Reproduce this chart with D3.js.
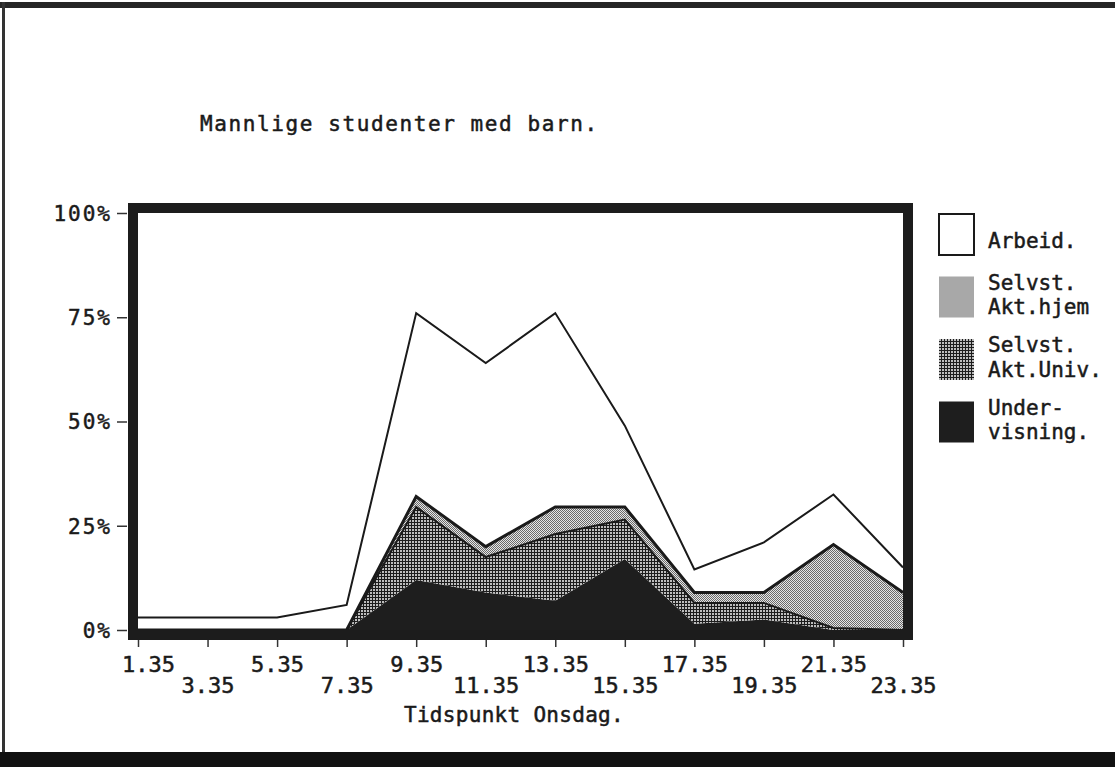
<!DOCTYPE html>
<html>
<head>
<meta charset="utf-8">
<script src="https://cdn.jsdelivr.net/npm/d3@7"></script>
<style>
  body { margin: 0; background: #fff; }
  text { font-family: "DejaVu Sans Mono", monospace; fill: #1a1a1a; stroke: #1a1a1a; stroke-width: 0.5px; }
</style>
</head>
<body>
<div id="chart"></div>
<script>
// time of day (x categories)
let hours = ["1.35", "3.35", "5.35", "7.35", "9.35", "11.35", "13.35", "15.35", "17.35", "19.35", "21.35", "23.35"];
// percent per activity, stacked bottom to top
let undervisning = [0, 0, 0, 0, 12, 9, 7, 17, 1.5, 2.5, 0, 0];
let aktUniv      = [0, 0, 0, 0, 17.5, 8.5, 16, 9.5, 5, 4, 0.5, 0];
let aktHjem      = [0, 0, 0, 0, 2.5, 2.5, 6.5, 3, 2.5, 2.5, 20, 9];
let arbeid       = [3, 3, 3, 6, 44, 44, 46.5, 19.5, 5.5, 12, 12, 6];
let yTicks = [0, 25, 50, 75, 100];
let keys = ["undervisning", "aktUniv", "aktHjem", "arbeid"];
let legendLabels = [["Arbeid."], ["Selvst.", "Akt.hjem"], ["Selvst.", "Akt.Univ."], ["Under-", "visning."]];

let width = 1115, height = 767;

let svg = d3.select("#chart")
    .append("svg")
    .attr("width", width)
    .attr("height", height);

// fill patterns (old dithered screen look)
let defs = svg.append("defs");
let pHjem = defs.append("pattern").attr("id", "pHjem")
    .attr("width", 2).attr("height", 2).attr("patternUnits", "userSpaceOnUse");
pHjem.append("rect").attr("width", 2).attr("height", 2).attr("fill", "#e6e6e6");
pHjem.append("rect").attr("x", 0).attr("y", 0).attr("width", 1).attr("height", 1).attr("fill", "#6a6a6a");
pHjem.append("rect").attr("x", 1).attr("y", 1).attr("width", 1).attr("height", 1).attr("fill", "#6a6a6a");

let pUniv = defs.append("pattern").attr("id", "pUniv")
    .attr("width", 3).attr("height", 3).attr("patternUnits", "userSpaceOnUse");
pUniv.append("rect").attr("width", 3).attr("height", 3).attr("fill", "#1c1c1c");
pUniv.append("rect").attr("x", 1).attr("y", 1).attr("width", 2).attr("height", 2).attr("fill", "#bdbdbd");

let fills = {
    undervisning: "#1e1e1e",
    aktUniv: "url(#pUniv)",
    aktHjem: "url(#pHjem)",
    arbeid: "#ffffff"
};
let strokeW = { undervisning: 0, aktUniv: 2, aktHjem: 3, arbeid: 2 };

// page border
svg.append("rect").attr("x", 0).attr("y", 2).attr("width", width).attr("height", 6).attr("fill", "#262626");
svg.append("rect").attr("x", 2).attr("y", 2).attr("width", 3).attr("height", 752).attr("fill", "#333");
svg.append("rect").attr("x", 0).attr("y", 752).attr("width", width).attr("height", 15).attr("fill", "#111");

// scales
let x = d3.scalePoint().domain(hours).range([138, 903]);
let y = d3.scaleLinear().domain([0, 100]).range([630, 213]);

// table for the stack
let table = hours.map((h, i) => ({
    hour: h,
    undervisning: undervisning[i],
    aktUniv: aktUniv[i],
    aktHjem: aktHjem[i],
    arbeid: arbeid[i]
}));
let stacked = d3.stack().keys(keys)(table);

let area = d3.area()
    .x(d => x(d.data.hour))
    .y0(d => y(d[0]))
    .y1(d => y(d[1]));
let topLine = d3.line()
    .x(d => x(d.data.hour))
    .y(d => y(d[1]));

let layers = svg.append("g");
layers.selectAll("path.area")
    .data(stacked)
    .enter().append("path")
    .attr("class", "area")
    .attr("d", area)
    .attr("fill", d => fills[d.key]);

layers.selectAll("path.edge")
    .data(stacked.filter(d => strokeW[d.key] > 0))
    .enter().append("path")
    .attr("class", "edge")
    .attr("d", topLine)
    .attr("fill", "none")
    .attr("stroke", "#1a1a1a")
    .attr("stroke-width", d => strokeW[d.key])
    .attr("stroke-linejoin", "miter");

// thick plot frame
svg.append("rect")
    .attr("x", 133).attr("y", 208)
    .attr("width", 775).attr("height", 427)
    .attr("fill", "none")
    .attr("stroke", "#1c1c1c")
    .attr("stroke-width", 10);

// y axis
let yAxis = svg.append("g")
    .attr("transform", "translate(127,0)")
    .call(d3.axisLeft(y).tickValues(yTicks).tickFormat(d => d + "%").tickSize(10).tickPadding(5));
yAxis.select(".domain").remove();
yAxis.selectAll("line").attr("stroke", "#333").attr("stroke-width", 1.5);
yAxis.selectAll("text")
    .attr("font-size", 21)
    .attr("letter-spacing", 2)
    .attr("font-family", "DejaVu Sans Mono")
    .attr("dy", "0.35em")
    .attr("fill", "#1a1a1a");

// x axis, labels alternate between two rows
let xAxis = svg.append("g")
    .attr("transform", "translate(0,640)")
    .call(d3.axisBottom(x).tickSize(7));
xAxis.select(".domain").remove();
xAxis.selectAll("line").attr("stroke", "#333").attr("stroke-width", 1.5);
xAxis.selectAll("text")
    .attr("font-size", 22)
    .attr("font-family", "DejaVu Sans Mono")
    .attr("fill", "#1a1a1a")
    .attr("dy", 0)
    .attr("x", (d, i) => i === 0 ? 10 : 0)
    .attr("y", (d, i) => i % 2 ? 53 : 32);

// axis title
svg.append("text")
    .attr("x", 514).attr("y", 722)
    .attr("text-anchor", "middle")
    .attr("font-size", 21)
    .attr("letter-spacing", 0.3)
    .text("Tidspunkt Onsdag.");

// chart title
svg.append("text")
    .attr("x", 200).attr("y", 131)
    .attr("font-size", 21)
    .attr("letter-spacing", 1.6)
    .text("Mannlige studenter med barn.");

// legend, top entry first
let legendKeys = ["arbeid", "aktHjem", "aktUniv", "undervisning"];
let legend = svg.selectAll(".legend")
    .data(legendKeys)
    .enter().append("g")
    .attr("class", "legend")
    .attr("transform", (d, i) => `translate(938, ${213 + i * 62.5})`);

legend.append("rect")
    .attr("x", 1).attr("y", 1)
    .attr("width", 35).attr("height", 41)
    .attr("fill", d => fills[d])
    .attr("stroke", "#1a1a1a")
    .attr("stroke-width", d => d === "arbeid" ? 2 : 0);

legend.each(function(d, i) {
    let lines = legendLabels[i];
    let g = d3.select(this);
    lines.forEach((t, j) => {
        let base = lines.length === 1 ? 35 : 14 + j * 24.5;
        g.append("text")
            .attr("x", 50)
            .attr("y", base)
            .attr("font-size", 21)
            .text(t);
    });
});
</script>
</body>
</html>
